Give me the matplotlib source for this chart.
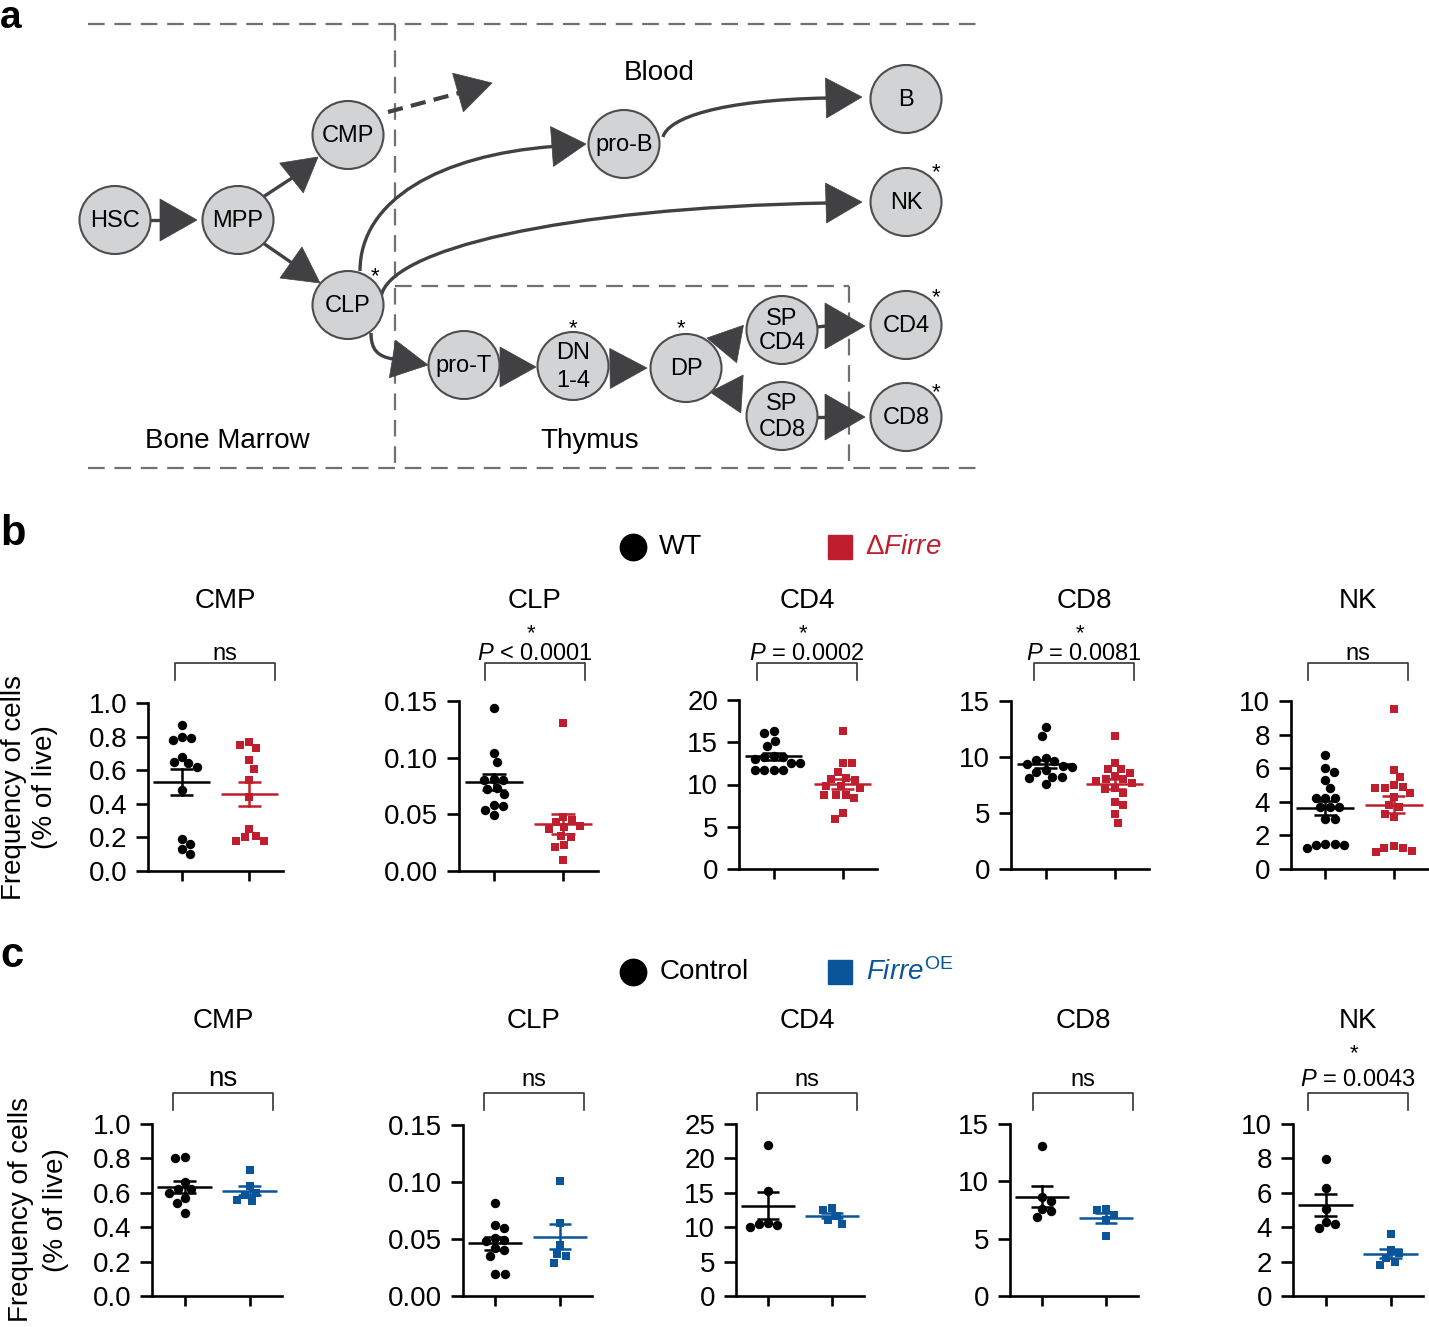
import numpy as np
import matplotlib
matplotlib.use("Agg")
import matplotlib.pyplot as plt
from matplotlib.patches import Ellipse, Polygon, PathPatch
from matplotlib.path import Path

plt.rcParams['font.family'] = ['Liberation Sans', 'DejaVu Sans']
plt.rcParams['mathtext.fontset'] = 'custom'
plt.rcParams['mathtext.rm'] = 'Liberation Sans'
plt.rcParams['mathtext.it'] = 'Liberation Sans:italic'
plt.rcParams['mathtext.bf'] = 'Liberation Sans:bold'
plt.rcParams['lines.scale_dashes'] = False

# ---------------- data ----------------
cell_types = ["CMP", "CLP", "CD4", "CD8", "NK"]

b_wt = {
    "CMP": [0.87, 0.80, 0.78, 0.79, 0.68, 0.64, 0.65, 0.62, 0.48, 0.16, 0.19, 0.10, 0.13],
    "CLP": [0.144, 0.104, 0.096, 0.080, 0.081, 0.080, 0.072, 0.073, 0.068, 0.057, 0.058, 0.049, 0.054],
    "CD4": [16.3, 16.1, 15.2, 14.6, 13.2, 13.0, 13.3, 13.4, 12.6, 12.5, 11.7, 11.7, 11.7, 11.7],
    "CD8": [12.7, 11.9, 9.9, 9.7, 9.6, 9.4, 9.2, 9.1, 8.8, 8.7, 8.2, 8.2, 8.1, 7.6],
    "NK": [6.8, 5.8, 6.0, 5.3, 4.8, 4.2, 4.2, 4.2, 3.7, 3.7, 3.7, 3.0, 3.0, 1.5, 1.4, 1.25, 1.4, 1.5],
}
b_ko = {
    "CMP": [0.75, 0.73, 0.77, 0.66, 0.61, 0.54, 0.44, 0.25, 0.20, 0.18, 0.18, 0.21],
    "CLP": [0.131, 0.048, 0.043, 0.045, 0.039, 0.037, 0.040, 0.030, 0.031, 0.023, 0.021, 0.010],
    "CD4": [16.3, 12.5, 12.5, 11.5, 10.8, 10.5, 10.7, 9.8, 9.8, 9.6, 8.8, 8.8, 8.7, 8.4, 6.6, 5.9],
    "CD8": [11.9, 9.5, 8.9, 8.9, 8.6, 8.3, 8.0, 8.0, 7.9, 7.7, 7.2, 7.1, 6.8, 6.0, 5.7, 4.9, 4.1],
    "NK": [9.5, 5.9, 5.5, 5.0, 4.9, 4.8, 4.8, 4.5, 4.3, 3.8, 3.7, 3.3, 3.1, 1.35, 1.25, 1.1, 1.0, 1.25],
}
c_ctrl = {
    "CMP": [0.80, 0.81, 0.66, 0.62, 0.62, 0.60, 0.57, 0.54, 0.48],
    "CLP": [0.082, 0.060, 0.062, 0.049, 0.051, 0.048, 0.042, 0.040, 0.035, 0.019, 0.019],
    "CD4": [22.0, 15.3, 10.4, 10.6, 10.3, 10.0],
    "CD8": [13.1, 8.6, 8.3, 7.6, 7.4, 6.9],
    "NK": [7.95, 6.26, 5.04, 4.32, 4.19, 3.93],
}
c_oe = {
    "CMP": [0.73, 0.64, 0.60, 0.59, 0.55, 0.56],
    "CLP": [0.101, 0.064, 0.045, 0.037, 0.035, 0.029],
    "CD4": [12.8, 12.5, 11.6, 11.1, 10.5],
    "CD8": [7.6, 7.5, 7.1, 6.6, 5.2],
    "NK": [3.6, 2.7, 2.5, 2.2, 2.0, 1.8],
}

b_yticks = {"CMP": [0, 0.2, 0.4, 0.6, 0.8, 1.0], "CLP": [0, 0.05, 0.10, 0.15],
            "CD4": [0, 5, 10, 15, 20], "CD8": [0, 5, 10, 15], "NK": [0, 2, 4, 6, 8, 10]}
b_yticklabels = {"CMP": ["0.0", "0.2", "0.4", "0.6", "0.8", "1.0"], "CLP": ["0.00", "0.05", "0.10", "0.15"],
                 "CD4": ["0", "5", "10", "15", "20"], "CD8": ["0", "5", "10", "15"],
                 "NK": ["0", "2", "4", "6", "8", "10"]}
c_yticks = dict(b_yticks, CD4=[0, 5, 10, 15, 20, 25])
c_yticklabels = dict(b_yticklabels, CD4=["0", "5", "10", "15", "20", "25"])

b_stats = ["ns", r"$\mathit{P}$ < 0.0001", r"$\mathit{P}$ = 0.0002", r"$\mathit{P}$ = 0.0081", "ns"]
b_star = [False, True, True, True, False]
c_stats = ["ns", "ns", "ns", "ns", r"$\mathit{P}$ = 0.0043"]
c_star = [False, False, False, False, True]

# ---------------- layout ----------------
W, H = 1429, 1327
RED = '#BE1E2D'
BLUE = '#0A559A'
AC = '#414042'
NODE_FC = '#D1D3D4'
NODE_EC = '#4D4D4D'
DASH_C = '#707070'

fig = plt.figure(figsize=(W / 100, H / 100), dpi=100)
ov = fig.add_axes([0, 0, 1, 1])
ov.set_xlim(0, W)
ov.set_ylim(H, 0)
ov.axis('off')

# ---------------- panel a : diagram ----------------
def dashed(x0, y0, x1, y1):
    ov.plot([x0, x1], [y0, y1], color=DASH_C, lw=1.6, dashes=(12, 7), dash_capstyle='butt')

dashed(88, 24, 978, 24)
dashed(88, 468, 978, 468)
dashed(395, 24, 395, 468)
dashed(395, 286, 849, 286)
dashed(849, 286, 849, 468)

def head(tip, base, hw=20):
    tx, ty = tip
    bx, by = base
    dx, dy = tx - bx, ty - by
    L = np.hypot(dx, dy)
    nx, ny = -dy / L, dx / L
    ov.add_patch(Polygon([(tx, ty), (bx + nx * hw, by + ny * hw), (bx - nx * hw, by - ny * hw)],
                         closed=True, fc=AC, ec=AC, lw=0.5, zorder=4))

def seg(p0, p1, **kw):
    ov.plot([p0[0], p1[0]], [p0[1], p1[1]], color=AC, lw=2.4, solid_capstyle='butt', zorder=3, **kw)

def curve(p0, p1, p2, p3):
    path = Path([p0, p1, p2, p3], [Path.MOVETO, Path.CURVE4, Path.CURVE4, Path.CURVE4])
    ov.add_patch(PathPatch(path, fc='none', ec=AC, lw=2.4, capstyle='butt', zorder=3))

# arrows
seg((150, 220), (161, 220)); head((197, 220), (160, 220), 21)
seg((263, 197), (292, 178)); head((318, 157), (291.5, 178), 19)
seg((263, 243), (292, 263)); head((320, 283), (291, 262.5), 19)
ov.plot([388, 459], [112, 93], color=AC, lw=3.0, dashes=(11, 6), dash_capstyle='butt', zorder=3)
head((492, 83), (458, 92.5), 20)
curve((360, 271), (360, 200), (440, 155), (553, 146.5)); head((586, 144), (552, 146.5), 20)
curve((663, 137), (668, 118), (720, 100), (827, 98)); head((862, 97), (826, 98), 20)
curve((381, 297), (388, 250), (560, 208), (827, 203)); head((862, 202), (826, 203), 20)
curve((371, 333), (371, 350), (378, 356.5), (393, 359)); head((428, 365), (392.5, 359), 19)
head((536, 367), (500, 367), 20)
head((647, 368), (610, 368.5), 20)
head((707, 338), (740, 344), 19)
head((710, 392), (742, 394), 19)
seg((817, 327), (826, 326)); head((865, 326), (825, 326), 23)
seg((817, 417), (826, 417)); head((865, 417), (825, 417), 23)

nodes = [
    ("HSC", 115, 220, 1.0), ("MPP", 238, 220, 1.0), ("CMP", 348, 135, 1.0), ("CLP", 348, 305, 1.0),
    ("pro-T", 464, 365, 1.0), ("pro-B", 624, 144, 1.0), ("B", 906, 99, 1.0), ("NK", 906, 202, 1.0),
    ("DN\n1-4", 573, 366, 1.3), ("DP", 686, 368, 1.0), ("SP\nCD4", 782, 330, 1.12),
    ("SP\nCD8", 782, 416, 1.25), ("CD4", 906, 325, 1.0), ("CD8", 906, 417, 1.0),
]
for lab, x, y, ls in nodes:
    ov.add_patch(Ellipse((x, y), 71, 68, fc=NODE_FC, ec=NODE_EC, lw=1.5, zorder=5))
    ov.text(x, y + 1, lab, ha='center', va='center', fontsize=17, linespacing=ls, zorder=6)

for x, y in [(375, 282), (936, 178), (573, 334), (681, 334), (936, 303), (936, 398)]:
    ov.text(x, y, "*", ha='center', va='baseline', fontsize=16, zorder=6)

ov.text(659, 73, "Blood", ha='center', va='center', fontsize=20)
ov.text(227, 441, "Bone Marrow", ha='center', va='center', fontsize=20)
ov.text(590, 441, "Thymus", ha='center', va='center', fontsize=20)

# panel letters
ov.text(0, 0, "a", fontsize=28, fontweight='bold', va='top', ha='left')
ov.text(0, 545, "b", fontsize=30, fontweight='bold', va='baseline', ha='left')
ov.text(0, 967, "c", fontsize=30, fontweight='bold', va='baseline', ha='left')

# legends
ov.plot([633], [547], 'o', color='black', ms=19)
ov.text(659, 547, "WT", fontsize=20, va='center', ha='left')
ov.plot([840], [547], 's', color=RED, ms=17)
ov.text(865, 547, r"$\Delta\mathit{Firre}$", fontsize=20, va='center', ha='left', color=RED)
ov.plot([633], [972], 'o', color='black', ms=19)
ov.text(660, 972, "Control", fontsize=20, va='center', ha='left')
ov.plot([840], [972], 's', color=BLUE, ms=17)
ov.text(866, 972, r"$\mathit{Firre}^{\mathrm{OE}}$", fontsize=20, va='center', ha='left', color=BLUE)

# y labels
ov.text(14, 787, "Frequency of cells", rotation=90, fontsize=20, ha='center', va='center')
ov.text(45, 787, "(% of live)", rotation=90, fontsize=20, ha='center', va='center')
ov.text(21, 1210, "Frequency of cells", rotation=90, fontsize=20, ha='center', va='center')
ov.text(56, 1210, "(% of live)", rotation=90, fontsize=20, ha='center', va='center')

# ---------------- panels b, c ----------------
def swarm(vals, px_per_val, D=9.5):
    vals = np.asarray(vals, float)
    order = np.argsort(-vals, kind='stable')
    placed = []
    offs = np.zeros(len(vals))
    for k, i in enumerate(order):
        y = vals[i] * px_per_val
        cands = [0.0]
        for xj, yj in placed:
            dy = abs(y - yj)
            if dy < D:
                dx = np.sqrt(D * D - dy * dy)
                cands += [xj + dx, xj - dx]
        sgn = 1 if k % 2 else -1
        cands = sorted(cands, key=lambda c: (round(abs(c), 6), sgn * c))
        for c in cands:
            if all((c - xj) ** 2 + (y - yj) ** 2 >= D * D - 1e-6 for xj, yj in placed):
                offs[i] = c
                placed.append((c, y))
                break
    return offs

def sem(v):
    v = np.asarray(v, float)
    return np.std(v, ddof=1) / np.sqrt(len(v))

b_boxes = [(148, 283, 703, 871), (459, 598, 701, 871), (739, 877, 700, 869),
           (1011, 1149, 701, 869), (1291, 1428, 701, 869)]
c_boxes = [(152, 282, 1124, 1296), (463, 592, 1125, 1296), (736, 864, 1124, 1296),
           (1010, 1138, 1124, 1296), (1293, 1423, 1124, 1296)]
b_centers = [225, 535, 807, 1084, 1358]
c_centers = [223, 534, 807, 1083, 1358]
b_stat_fs = [17, 17, 17, 17, 17]
c_stat_fs = [20, 17, 17, 17, 17]

def panel(box, cx, name, g0, g1, col1, yticks, yticklabels, stat, stat_fs, star, title_y,
          br_y, leg_len, stat_y, star_y):
    L, R, T, B = box
    ax = fig.add_axes([L / W, 1 - B / H, (R - L) / W, (B - T) / H])
    ax.patch.set_alpha(0)
    ymax = yticks[-1]
    ax.set_xlim(-0.5, 1.5)
    ax.set_ylim(0, ymax)
    for s in ('top', 'right'):
        ax.spines[s].set_visible(False)
    for s in ('left', 'bottom'):
        ax.spines[s].set_linewidth(1.9)
    ax.set_xticks([0, 1])
    ax.set_xticklabels([])
    ax.set_yticks(yticks)
    ax.set_yticklabels(yticklabels, fontsize=20)
    ax.tick_params(axis='y', length=9, width=1.9, pad=6)
    ax.tick_params(axis='x', length=7, width=1.9)
    pxv = (B - T) / ymax
    pxx = (R - L) / 2.0
    for xc, g, col, mk, s in [(0, g0, 'black', 'o', 46), (1, g1, col1, 's', 40)]:
        g = np.asarray(g, float)
        xs = xc + swarm(g, pxv) / pxx
        ax.scatter(xs, g, s=s, marker=mk, color=col, linewidths=0, zorder=3, clip_on=False)
        m, e = g.mean(), sem(g)
        ax.plot([xc - 0.42, xc + 0.42], [m, m], color=col, lw=1.8, zorder=4, solid_capstyle='butt')
        ax.plot([xc, xc], [m - e, m + e], color=col, lw=1.8, zorder=4)
        for yy in (m - e, m + e):
            ax.plot([xc - 0.17, xc + 0.17], [yy, yy], color=col, lw=1.8, zorder=4, solid_capstyle='butt')
    ov.text(cx, title_y, name, fontsize=20, ha='center', va='center')
    x0, x1 = cx - 50, cx + 50
    ov.plot([x0, x0, x1, x1], [br_y + leg_len, br_y, br_y, br_y + leg_len], color='#333333', lw=1.2)
    ov.text(cx, stat_y, stat, fontsize=stat_fs, ha='center', va='baseline')
    if star:
        ov.text(cx - 4, star_y, "*", fontsize=16, ha='center', va='baseline')

for i, name in enumerate(cell_types):
    panel(b_boxes[i], b_centers[i], name, b_wt[name], b_ko[name], RED, b_yticks[name],
          b_yticklabels[name], b_stats[i], b_stat_fs[i], b_star[i], 601, 663, 17, 660, 639)
    panel(c_boxes[i], c_centers[i], name, c_ctrl[name], c_oe[name], BLUE, c_yticks[name],
          c_yticklabels[name], c_stats[i], c_stat_fs[i], c_star[i], 1021, 1093, 17, 1086, 1059)

fig.savefig("out.png", dpi=100)
